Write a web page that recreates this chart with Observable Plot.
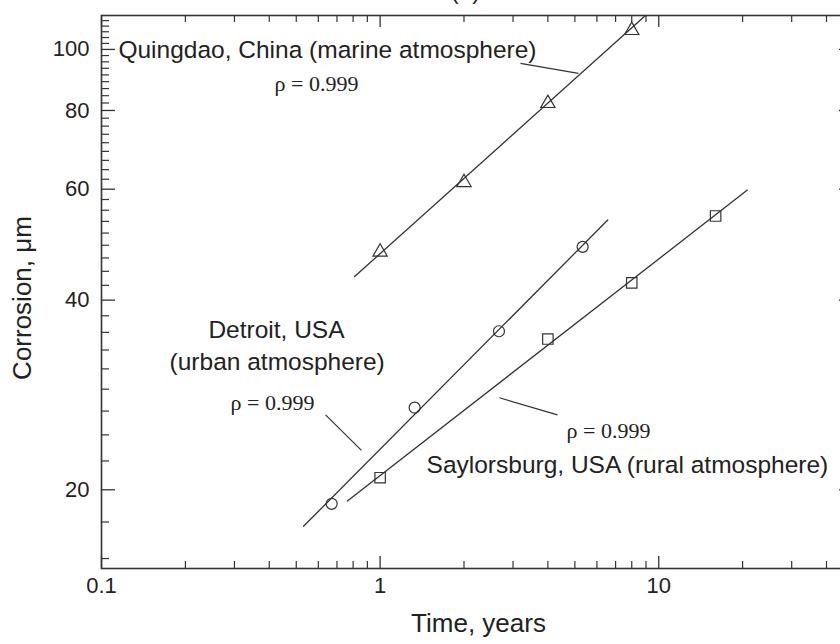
<!DOCTYPE html>
<html>
<head>
<meta charset="utf-8">
<script src="https://cdn.jsdelivr.net/npm/d3@7"></script>
<script src="https://cdn.jsdelivr.net/npm/@observablehq/plot@0.6"></script>
<style>
  html, body { margin: 0; padding: 0; background: #fff; overflow: hidden; }
  #chart svg { display: block; }
</style>
</head>
<body>
<div id="chart"></div>
<script>
// ---- data ----
const quingdaoTime = [1, 2, 4, 8];
const quingdaoCorrosion = [47.7, 61.5, 82.1, 107.2];
const detroitTime = [0.67, 1.33, 2.67, 5.33];
const detroitCorrosion = [19.0, 27.0, 35.7, 48.6];
const saylorsburgTime = [1, 4, 8, 16];
const saylorsburgCorrosion = [20.9, 34.7, 42.6, 54.4];

// fitted power-law lines (end points)
const quingdaoFitTime = [0.81, 8.96];
const quingdaoFitCorrosion = [43.6, 113.2];
const detroitFitTime = [0.531, 6.56];
const detroitFitCorrosion = [17.5, 53.6];
const saylorsburgFitTime = [0.763, 20.8];
const saylorsburgFitCorrosion = [19.2, 59.8];

// axes
const xDomain = [0.1, 50];
const yDomain = [15, 113.2];
const xMajorTicks = [0.1, 1, 10];
const xTickLabels = ["0.1", "1", "10"];
const xMinorTicks = [0.2, 0.3, 0.4, 0.5, 0.6, 0.7, 0.8, 0.9, 2, 3, 4, 5, 6, 7, 8, 9, 20, 30, 40];
const yMajorTicks = [20, 40, 60, 80, 100];
const yTickLabels = ["20", "40", "60", "80", "100"];
const yMinorPerInterval = 8;
const xTitle = "Time, years";
const yTitle = "Corrosion, \u03bcm";
const panelTitle = "(a)";

// annotations: left-aligned site labels
const startLabels = ["Quingdao, China (marine atmosphere)", "Saylorsburg, USA (rural atmosphere)"];
const startLabelTime = [0.115, 1.468];
const startLabelCorrosion = [99.6, 21.9];
// centred site labels
const centerLabels = ["Detroit, USA", "(urban atmosphere)"];
const centerLabelTime = [0.4246, 0.427];
const centerLabelCorrosion = [35.8, 31.9];
// correlation labels
const rhoLabels = ["\u03c1 = 0.999", "\u03c1 = 0.999", "\u03c1 = 0.999"];
const rhoTime = [0.591, 0.411, 6.60];
const rhoCorrosion = [88.2, 27.5, 24.8];
// leader lines
const leaderTime1 = [3.19, 0.637, 2.68];
const leaderCorrosion1 = [95.0, 26.3, 28.0];
const leaderTime2 = [5.15, 0.857, 4.33];
const leaderCorrosion2 = [91.6, 23.1, 26.3];

// ---- build tables ----
const zip = (xs, ys, extra) => xs.map((x, i) => ({x, y: ys[i], ...(extra || {})}));
const quingdao = zip(quingdaoTime, quingdaoCorrosion);
const detroit = zip(detroitTime, detroitCorrosion);
const saylorsburg = zip(saylorsburgTime, saylorsburgCorrosion);
const fits = [
  ...zip(quingdaoFitTime, quingdaoFitCorrosion, {site: "Q"}),
  ...zip(detroitFitTime, detroitFitCorrosion, {site: "D"}),
  ...zip(saylorsburgFitTime, saylorsburgFitCorrosion, {site: "S"})
];
const labelsStart = startLabels.map((t, i) => ({t, x: startLabelTime[i], y: startLabelCorrosion[i]}));
const labelsCenter = centerLabels.map((t, i) => ({t, x: centerLabelTime[i], y: centerLabelCorrosion[i]}));
const rhos = rhoLabels.map((t, i) => ({t, x: rhoTime[i], y: rhoCorrosion[i]}));
const leaders = leaderTime1.map((x1, i) => ({x1, y1: leaderCorrosion1[i], x2: leaderTime2[i], y2: leaderCorrosion2[i]}));

// minor y ticks: 8 evenly spaced between consecutive majors (Origin style)
const yStep = yMajorTicks[1] - yMajorTicks[0];
const yMinorTicks = [];
for (let base = 0; base <= yMajorTicks[yMajorTicks.length - 1]; base += yStep) {
  for (let j = 1; j <= yMinorPerInterval; j++) {
    const v = base + j * yStep / (yMinorPerInterval + 1);
    if (v >= yDomain[0] && v <= yDomain[1]) yMinorTicks.push(v);
  }
}

// ---- layout ----
const W = 840, H = 644;
const mL = 101, mT = 15, mB = 76, mR = -13;
const frameW = W - mL - mR;
const frameH = H - mT - mB;
const ink = "#333";
const sans = "Liberation Sans, Arial, Helvetica, sans-serif";
const serif = "Liberation Serif, Times New Roman, serif";

const chart = Plot.plot({
  width: W,
  height: H,
  marginLeft: mL,
  marginTop: mT,
  marginBottom: mB,
  marginRight: mR,
  style: {fontFamily: sans, color: "#222", background: "#fff"},
  x: {type: "log", domain: xDomain, axis: null},
  y: {type: "log", domain: yDomain, axis: null},
  marks: [
    Plot.frame({stroke: ink, strokeWidth: 1.6}),
    // bottom ticks
    Plot.tickX(xMajorTicks, {x: d => d, insetTop: frameH - 12, stroke: ink, strokeWidth: 1.3}),
    Plot.tickX(xMinorTicks, {x: d => d, insetTop: frameH - 7, stroke: ink, strokeWidth: 1.2}),
    // top ticks
    Plot.tickX(xMajorTicks, {x: d => d, insetBottom: frameH - 12, stroke: ink, strokeWidth: 1.3}),
    Plot.tickX(xMinorTicks, {x: d => d, insetBottom: frameH - 7, stroke: ink, strokeWidth: 1.2}),
    // left ticks
    Plot.tickY(yMajorTicks, {y: d => d, insetRight: frameW - 14, stroke: ink, strokeWidth: 1.3}),
    Plot.tickY(yMinorTicks, {y: d => d, insetRight: frameW - 8, stroke: ink, strokeWidth: 1.2}),
    // right ticks
    Plot.tickY(yMajorTicks, {y: d => d, insetLeft: frameW - 14, stroke: ink, strokeWidth: 1.3}),
    Plot.tickY(yMinorTicks, {y: d => d, insetLeft: frameW - 8, stroke: ink, strokeWidth: 1.2}),
    // tick labels
    Plot.text(xMajorTicks, {x: d => d, text: (d, i) => xTickLabels[i], frameAnchor: "bottom", dy: 24, fontSize: 22, fill: "#222"}),
    Plot.text(yMajorTicks, {y: d => d, text: (d, i) => yTickLabels[i], frameAnchor: "left", dx: -12, textAnchor: "end", fontSize: 22, fill: "#222"}),
    // axis titles
    Plot.text([xTitle], {text: d => d, frameAnchor: "bottom", dy: 63, dx: 1, fontSize: 26, fill: "#222"}),
    Plot.text([yTitle], {text: d => d, frameAnchor: "left", textAnchor: "middle", dx: -79, dy: 6, rotate: -90, fontSize: 26, fill: "#222"}),
    // panel title (cut by the top edge)
    Plot.text([panelTitle], {text: d => d, x: [2.025], y: [123.6], fontSize: 24, fill: "#222"}),
    // fitted lines
    Plot.line(fits, {x: "x", y: "y", z: "site", stroke: ink, strokeWidth: 1.3}),
    // leader lines
    Plot.link(leaders, {x1: "x1", y1: "y1", x2: "x2", y2: "y2", stroke: ink, strokeWidth: 1.2}),
    // points
    Plot.dot(quingdao, {x: "x", y: "y", symbol: "triangle", r: 5.3, stroke: ink, strokeWidth: 1.2, fill: "none"}),
    Plot.dot(detroit, {x: "x", y: "y", symbol: "circle", r: 5.5, stroke: ink, strokeWidth: 1.2, fill: "none"}),
    Plot.dot(saylorsburg, {x: "x", y: "y", symbol: "square", r: 5.9, stroke: ink, strokeWidth: 1.2, fill: "none"}),
    // annotation text
    Plot.text(labelsStart, {x: "x", y: "y", text: "t", textAnchor: "start", fontSize: 24.5, fill: "#222"}),
    Plot.text(labelsCenter, {x: "x", y: "y", text: "t", textAnchor: "middle", fontSize: 24.5, fill: "#222"}),
    Plot.text(rhos, {x: "x", y: "y", text: "t", fontSize: 22, fontFamily: serif, fill: "#222"})
  ]
});
document.getElementById("chart").appendChild(chart);
</script>
</body>
</html>
